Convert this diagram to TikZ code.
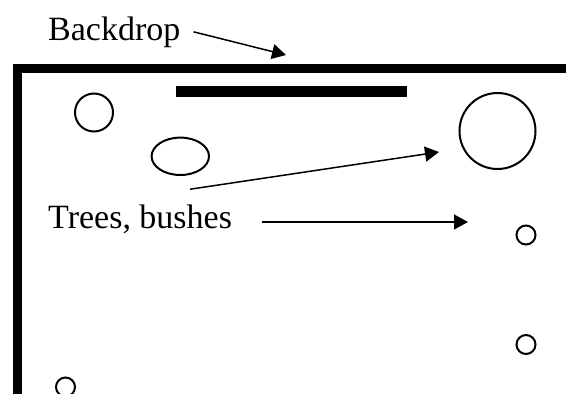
\documentclass[tikz,border=0pt]{standalone}
\usepackage{fontspec}
\setmainfont{Liberation Serif}
\usetikzlibrary{arrows.meta}
\begin{document}
\begin{tikzpicture}[x=1pt,y=-1pt,>={Triangle[length=14pt,width=15pt]},line join=miter,font=\fontsize{34}{40}\selectfont]
	\useasboundingbox (0,0) rectangle (566,394);
	\draw[line width=9pt] (17.5,394)--(17.5,68.5)--(566,68.5);
	\draw[line width=11pt] (176,91.5)--(407,91.5);
	\draw[line width=2pt] (180.3,156.3) ellipse (28.7 and 18.7);
	\foreach \c/\r in {{94,112.5}/19,{497.5,131}/38,{526,235}/9.5,{526,344.5}/9.5,{65.5,387}/9.5}
		\draw[line width=2pt] (\c) circle (\r);
	\node[anchor=base west,inner sep=0] (backdrop) at (48,40) {Backdrop};
	\node[anchor=base west,inner sep=0] (trees) at (48,228) {Trees, bushes};
	\coordinate (tipb) at (286,55);
	\coordinate (tipbig) at (439,152);
	\coordinate (tipsmall) at (468,222);
	\draw[->,line width=1.5pt] ([xshift=13pt]backdrop.east)--(tipb);
	\draw[->,line width=1.5pt] ([xshift=50pt,yshift=15pt]trees.north)--(tipbig);
	\draw[->,line width=1.5pt] ([xshift=30pt]trees.east |- tipsmall)--(tipsmall);
\end{tikzpicture}
\end{document}
